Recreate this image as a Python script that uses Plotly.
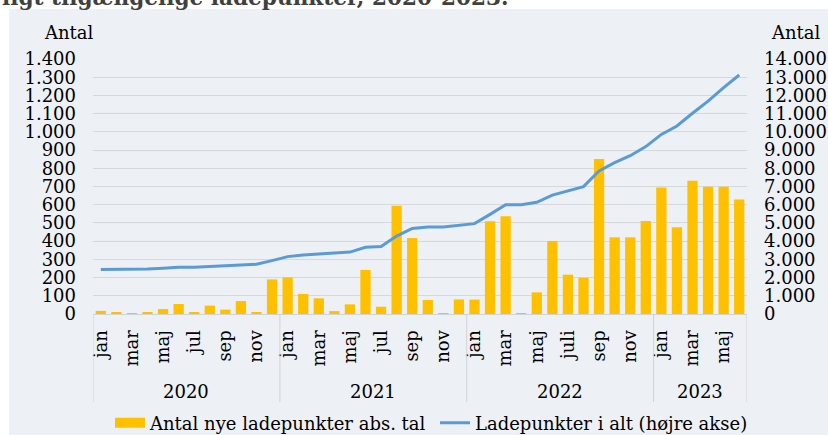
import plotly.graph_objects as go

years = ["2020", "2021", "2022", "2023"]
months_per_year = [12, 12, 12, 6]
tick_labels_2020 = ["jan", "mar", "maj", "jul", "sep", "nov"]
tick_labels_2021 = ["jan", "mar", "maj", "jul", "sep", "nov"]
tick_labels_2022 = ["jan", "mar", "maj", "juli", "sep", "nov"]
tick_labels_2023 = ["jan", "mar", "maj"]

new_points_2020 = [17, 7, 2, 7, 27, 55, 7, 46, 24, 71, 11, 190]
new_points_2021 = [201, 110, 86, 16, 53, 242, 40, 595, 417, 77, 2, 80]
new_points_2022 = [79, 509, 536, 2, 119, 401, 216, 199, 851, 421, 421, 511]
new_points_2023 = [694, 476, 732, 699, 699, 628]

total_2020 = [2450, 2450, 2470, 2470, 2510, 2560, 2560, 2600, 2620, 2690, 2730, 2930]
total_2021 = [3150, 3240, 3310, 3350, 3400, 3660, 3700, 4280, 4700, 4780, 4780, 4890]
total_2022 = [4960, 5470, 6000, 6000, 6130, 6530, 6770, 6990, 7850, 8310, 8690, 9190]
total_2023 = [9860, 10320, 11020, 11690, 12430, 13120]

bars = new_points_2020 + new_points_2021 + new_points_2022 + new_points_2023
totals = total_2020 + total_2021 + total_2022 + total_2023
tick_text = tick_labels_2020 + tick_labels_2021 + tick_labels_2022 + tick_labels_2023
x = list(range(len(bars)))
tick_vals = list(range(0, len(bars), 2))

FONT = "DejaVu Serif"
BG = "#edf0f4"
BAR_COLOR = "#FFC000"
LINE_COLOR = "#5B9BD5"

fig = go.Figure()
fig.add_trace(go.Bar(x=x, y=bars, name="Antal nye ladepunkter abs. tal", showlegend=False,
                     marker=dict(color=BAR_COLOR, line=dict(width=0)), yaxis="y"))
# legend entry for the bars (wide flat swatch as in the original)
fig.add_trace(go.Scatter(x=[None], y=[None], name="Antal nye ladepunkter abs. tal", mode="lines",
                         line=dict(color=BAR_COLOR, width=10), legend="legend", hoverinfo="skip"))
fig.add_trace(go.Scatter(x=x, y=totals, name="Ladepunkter i alt (højre akse)", mode="lines",
                         line=dict(color=LINE_COLOR, width=3), yaxis="y2", legend="legend2"))

W, H = 828, 435
L, R, T, B = 93, 81, 59, 121
AX_BOTTOM = H - B

shapes = []
shapes.append(dict(type="rect", xref="paper", yref="paper", xsizemode="scaled", x0=-2, x1=3,
                   ysizemode="pixel", yanchor=1, y0=T - 9, y1=400,
                   fillcolor="white", line=dict(width=0), layer="below"))
shapes.append(dict(type="rect", xref="paper", yref="paper", xsizemode="pixel", xanchor=0,
                   x0=-400, x1=-(L - 9), y0=-3, y1=4,
                   fillcolor="white", line=dict(width=0), layer="below"))
bounds = [-0.5]
for n in months_per_year:
    bounds.append(bounds[-1] + n)
for b in bounds:
    shapes.append(dict(type="line", xref="x", yref="paper", x0=b, x1=b,
                       ysizemode="pixel", yanchor=0, y0=0, y1=-(402 - AX_BOTTOM),
                       line=dict(color="#d0d3d8", width=1)))

annotations = []
for i, yr in enumerate(years):
    annotations.append(dict(x=(bounds[i] + bounds[i + 1]) / 2, y=0, yshift=-(391 - AX_BOTTOM),
                            xref="x", yref="paper", text=yr, showarrow=False,
                            font=dict(family=FONT, size=18, color="black"), yanchor="middle"))
annotations.append(dict(x=0, xshift=42 - L, y=1, yshift=T - 32, xref="paper", yref="paper",
                        text="Antal", showarrow=False, xanchor="left", yanchor="middle",
                        font=dict(family=FONT, size=18, color="black")))
annotations.append(dict(x=1, xshift=769 - (W - R), y=1, yshift=T - 32, xref="paper", yref="paper",
                        text="Antal", showarrow=False, xanchor="left", yanchor="middle",
                        font=dict(family=FONT, size=18, color="black")))
annotations.append(dict(x=0, xshift=-L, y=1, yshift=T + 3, xref="paper", yref="paper",
                        text="<b>ligt tilgængelige ladepunkter, 2020-2023.</b>", showarrow=False,
                        xanchor="left", yanchor="middle",
                        font=dict(family=FONT, size=21.6, color="#404040")))

legend_common = dict(orientation="h", xanchor="left", xref="container",
                     y=(H - 423) / H, yanchor="middle", yref="container",
                     font=dict(family=FONT, size=18, color="black"), bgcolor="rgba(0,0,0,0)",
                     borderwidth=0, itemwidth=30, tracegroupgap=0)

fig.update_layout(
    width=W, height=H, autosize=False,
    margin=dict(l=L, r=R, t=T, b=B, pad=0, autoexpand=False),
    paper_bgcolor=BG, plot_bgcolor=BG,
    separators=",.",
    font=dict(family=FONT, size=18, color="black"),
    bargap=0.34,
    showlegend=True,
    legend=dict(x=110 / W, **legend_common),
    legend2=dict(x=435 / W, **legend_common),
    xaxis=dict(range=[-0.5, len(bars) - 0.5], tickmode="array", tickvals=tick_vals, ticktext=tick_text,
               tickangle=-90, showgrid=False, zeroline=False, showline=True, linecolor="#d0d3d8",
               linewidth=1, ticks="", ticklabelstandoff=8, automargin=False,
               tickfont=dict(family=FONT, size=18)),
    yaxis=dict(range=[0, 1400], dtick=100, tickformat=",d", showgrid=True, gridcolor="#d6d8db",
               gridwidth=1, zeroline=False, ticks="", ticklabelstandoff=16, automargin=False,
               tickfont=dict(family=FONT, size=18)),
    yaxis2=dict(range=[0, 14000], dtick=1000, tickformat=",d", overlaying="y", side="right",
                showgrid=False, zeroline=False, ticks="", ticklabelstandoff=16, automargin=False,
                tickfont=dict(family=FONT, size=18)),
    shapes=shapes,
    annotations=annotations,
)

fig.write_html("out.html",
               config={"displayModeBar": False, "responsive": False},
               post_script="document.body.style.margin='0';document.body.style.overflow='hidden';")
